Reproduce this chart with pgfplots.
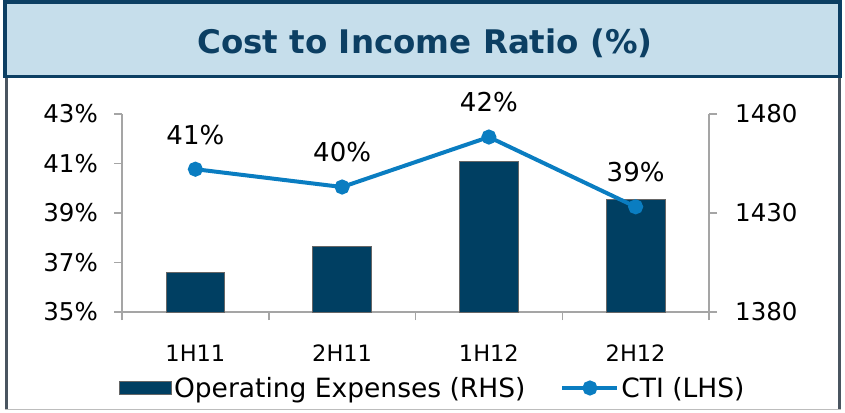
\documentclass[border=0pt]{standalone}
\usepackage{fontspec}
\setmainfont{DejaVu Sans}
\usepackage{pgfplots}
\pgfplotsset{compat=1.18}
\definecolor{navy}{HTML}{0C3F63}
\definecolor{barcol}{HTML}{003F62}
\definecolor{titlebg}{HTML}{C6DEEB}
\definecolor{ctiblue}{HTML}{0A7DC1}
\definecolor{axgrey}{HTML}{A5A5A5}
\definecolor{framegrey}{HTML}{4A5560}
\definecolor{bottomgrey}{HTML}{BDBDBD}
\pgfplotsset{
  ctilegend/.style={legend image code/.code={\draw[mark repeat=2, mark phase=2, ##1] plot coordinates {(0bp,0bp) (27.5bp,0bp) (55bp,0bp)};}},
}
\begin{document}
\begin{tikzpicture}[x=1bp,y=1bp]
\useasboundingbox (0,0) rectangle (845,412);
\fill[white] (0,0) rectangle (845,412);
% frame
\draw[framegrey, line width=3bp] (6.5,336) -- (6.5,2);
\draw[framegrey, line width=2.5bp] (839.5,336) -- (839.5,2);
\draw[bottomgrey, line width=1.5bp] (5,2.5) -- (841,2.5);
\fill[titlebg] (5,335) rectangle (840,410);
\draw[navy, line width=3.5bp] (5,335.5) rectangle (840,410);
\node[text=navy, font=\bfseries\fontsize{32.5bp}{38bp}\selectfont] at (425,369) {Cost to Income Ratio (\%)};
% bars (RHS)
\begin{axis}[
  scale only axis, width=587bp, height=198bp,
  at={(122bp,100bp)}, anchor=south west,
  clip=false,
  xmin=-0.5, xmax=3.5, ymin=1380, ymax=1480,
  axis x line*=bottom, axis y line*=right,
  axis line style={draw=axgrey, line width=1.5bp},
  tick style={draw=axgrey, line width=1.5bp},
  tick align=outside,
  xtick={0,1,2,3}, xticklabels={1H11,2H11,1H12,2H12},
  major x tick style={draw=none},
  minor xtick={-0.5,0.5,1.5,2.5,3.5},
  minor tick length=8bp, major tick length=8bp,
  ytick={1380,1430,1480}, yticklabels={1380,1430,1480},
  xticklabel style={font=\fontsize{22.5bp}{27bp}\selectfont, anchor=center, inner sep=0pt, yshift=-33bp},
  yticklabel style={font=\fontsize{24.5bp}{29bp}\selectfont, anchor=west, inner sep=0pt, xshift=18bp},
  legend columns=2,
  legend style={at={(0.5281,-0.3838)}, anchor=center, draw=none, fill=none,
    inner sep=0pt, font=\fontsize{26.5bp}{31bp}\selectfont,
    nodes={inner sep=0pt},
    /tikz/every odd column/.append style={column sep=2bp},
    /tikz/every even column/.append style={column sep=35bp}},
]
\addplot[ybar, bar width=0.4, bar shift=0pt, fill=barcol, draw=gray!80!black, line width=0.6bp,
  legend image code/.code={\draw[fill=barcol, draw=gray!80!black, line width=0.6bp] (0bp,-6.5bp) rectangle (52bp,6.5bp);}]
  coordinates {(0,1400) (1,1413) (2,1456) (3,1437)};
\addlegendentry{Operating Expenses (RHS)}
\addlegendimage{color=ctiblue, line width=4bp, mark=*, mark size=5.5bp, ctilegend}
\addlegendentry{CTI (LHS)}
\end{axis}
% line (LHS)
\begin{axis}[
  scale only axis, width=587bp, height=198bp,
  at={(122bp,100bp)}, anchor=south west,
  clip=false,
  xmin=-0.5, xmax=3.5, ymin=35, ymax=43,
  axis x line=none, axis y line*=left,
  axis line style={draw=axgrey, line width=1.5bp},
  tick style={draw=axgrey, line width=1.5bp},
  tick align=outside, major tick length=8bp,
  ytick={35,37,39,41,43}, yticklabels={35\%,37\%,39\%,41\%,43\%},
  yticklabel style={font=\fontsize{24.5bp}{29bp}\selectfont, anchor=east, inner sep=0pt, xshift=-16bp},
]
\addplot[color=ctiblue, line width=4bp, mark=*, mark size=5.5bp,
  point meta=explicit symbolic,
  nodes near coords,
  nodes near coords style={anchor=center, yshift=34.6bp, inner sep=0pt, text=black,
    font=\fontsize{26bp}{31bp}\selectfont}]
  coordinates {(0,40.77)[41\%] (1,40.05)[40\%] (2,42.07)[42\%] (3,39.25)[39\%]};
\end{axis}
\end{tikzpicture}
\end{document}
